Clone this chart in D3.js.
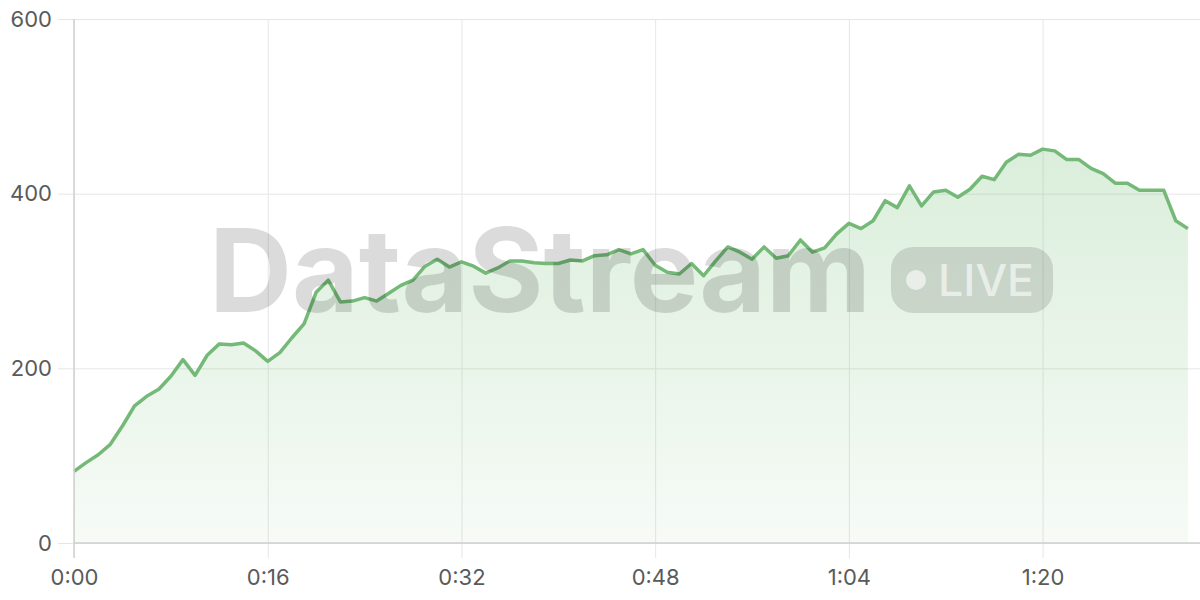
<!DOCTYPE html>
<html><head><meta charset="utf-8">
<script src="https://cdn.jsdelivr.net/npm/d3@7"></script>
<style>html,body{margin:0;padding:0;background:#fff;}svg{display:block;}</style>
</head><body>
<svg id="c" width="1200" height="600"></svg>
<script>
const seconds = d3.range(0, 93);
const values = [82,92,101,113,134,157,168,176,191,210,192,215,228,227,229,220,208,218,235,251,
287,301,276,277,281,277,286,295,301,317,325,316,322,317,309,315,323,323,321,320,
320,324,323,329,330,336,331,336,318,310,308,320,306,323,339,333,325,339,326,329,
347,333,338,354,366,360,369,392,384,409,386,402,404,396,405,420,416,436,445,444,
451,449,439,439,429,423,412,412,404,404,404,369,360];
const yTicks = [0,200,400,600];
const xTicks = [0,16,32,48,64,80];
const watermarkText = "DataStream";
const badgeText = "LIVE";

const svg = d3.select("#c");
const x = d3.scaleLinear().domain([0,93]).range([74,1200]);
const y = d3.scaleLinear().domain([0,600]).range([543,19]);
const fmt = s => Math.floor(s/60) + ":" + String(s%60).padStart(2,"0");

const defs = svg.append("defs");
const grad = defs.append("linearGradient").attr("id","g").attr("x1",0).attr("x2",0)
  .attr("gradientUnits","userSpaceOnUse").attr("y1",y(451)).attr("y2",y(0));
grad.append("stop").attr("offset",0).attr("stop-color","#6dbb6f").attr("stop-opacity",0.25);
grad.append("stop").attr("offset",1).attr("stop-color","#6dbb6f").attr("stop-opacity",0.06);

const font = "Inter, 'Noto Sans', sans-serif";
// grid
const gy = svg.append("g").attr("transform","translate(74,0)")
  .call(d3.axisLeft(y).tickValues(yTicks).tickSize(16).tickPadding(6));
gy.select(".domain").remove();
gy.selectAll(".tick line").attr("stroke","#e6e6e6");
gy.selectAll(".tick").append("line").attr("x1",0).attr("x2",1126).attr("stroke","#e6e6e6");
gy.selectAll(".tick text").attr("font-family",font).attr("font-size",22).attr("fill","#5a5a5a");

const gx = svg.append("g").attr("transform","translate(0,543)")
  .call(d3.axisBottom(x).tickValues(xTicks).tickFormat(fmt).tickSize(15).tickPadding(11));
gx.select(".domain").remove();
gx.selectAll(".tick line").attr("stroke","#e6e6e6");
gx.selectAll(".tick").append("line").attr("y1",0).attr("y2",-524).attr("stroke","#e6e6e6");
gx.selectAll(".tick text").attr("font-family",font).attr("font-size",22).attr("fill","#5a5a5a");

// area & line
const area = d3.area().x((d,i)=>x(seconds[i])).y0(y(0)).y1(d=>y(d));
const line = d3.line().x((d,i)=>x(seconds[i])).y(d=>y(d));
svg.append("path").datum(values).attr("d",area).attr("fill","url(#g)");
svg.append("path").datum(values).attr("d",line).attr("fill","none").attr("stroke","#74b977").attr("stroke-width",3.5).attr("stroke-linejoin","round");

// axis lines
svg.append("line").attr("x1",74).attr("x2",74).attr("y1",19).attr("y2",558).attr("stroke","#d0d0d0").attr("stroke-width",1.5);
svg.append("line").attr("x1",74).attr("x2",1200).attr("y1",543).attr("y2",543).attr("stroke","#cfcfcf").attr("stroke-width",1.5);

// watermark
const wm = svg.append("g").attr("pointer-events","none");
wm.append("text").attr("x",209).attr("y",312).text(watermarkText)
  .attr("font-family",font).attr("font-weight",700).attr("font-size",116)
  .attr("textLength",662).attr("lengthAdjust","spacingAndGlyphs")
  .attr("fill","#000").attr("fill-opacity",0.14);
wm.append("rect").attr("x",891).attr("y",247).attr("width",162).attr("height",66).attr("rx",22)
  .attr("fill","#000").attr("fill-opacity",0.12);
wm.append("circle").attr("cx",916).attr("cy",280).attr("r",10).attr("fill","#fff").attr("fill-opacity",0.6);
wm.append("text").attr("x",938).attr("y",296).text(badgeText)
  .attr("font-family",font).attr("font-weight",500).attr("font-size",44)
  .attr("textLength",96).attr("lengthAdjust","spacingAndGlyphs")
  .attr("fill","#fff").attr("fill-opacity",0.6);
</script>
</body></html>
